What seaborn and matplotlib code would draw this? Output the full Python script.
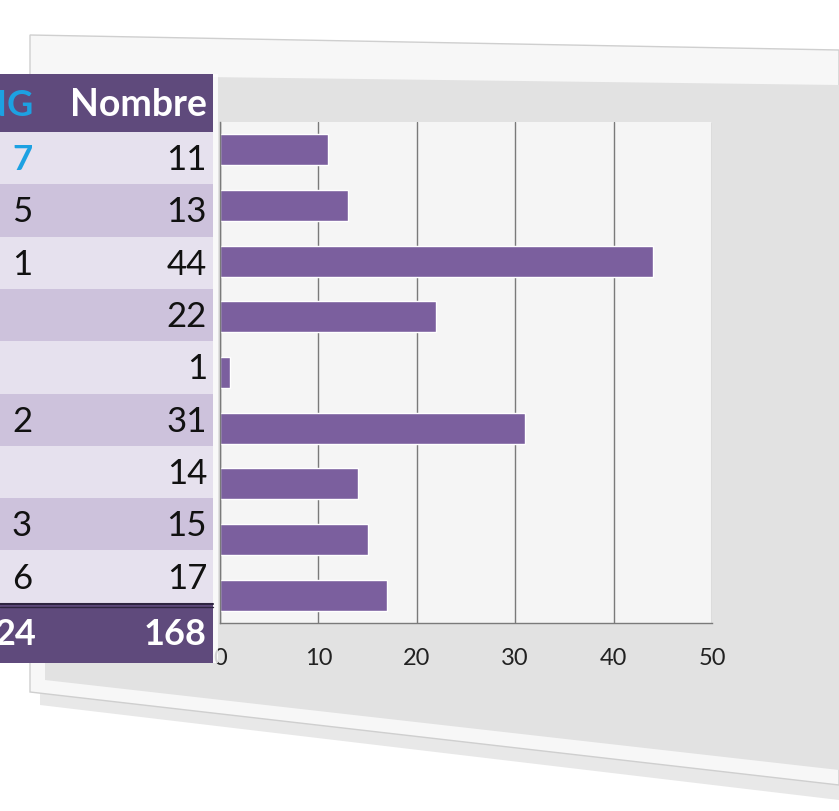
import matplotlib
matplotlib.use("Agg")
import matplotlib.pyplot as plt
import seaborn as sns
from matplotlib.patches import Rectangle, Polygon

sns.set_theme(style="white")
plt.rcParams["font.family"] = ["Lato", "DejaVu Sans"]

# data
categories = ["c1", "c2", "c3", "c4", "c5", "c6", "c7", "c8", "c9"]
nombre = [11, 13, 44, 22, 1, 31, 14, 15, 17]
rang = ["7", "5", "1", "", "", "2", "", "3", "6"]
headers = ["RANG", "Nombre"]
totals = ["24", "168"]
xticks = [0, 10, 20, 30, 40, 50]

W, H = 839, 811
fig = plt.figure(figsize=(W / 100, H / 100), dpi=100)
fig.patch.set_facecolor("white")


def fx(px):
    return px / W


def fy(py):
    return 1 - py / H


# background panel
bg = fig.add_axes([0, 0, 1, 1], zorder=0)
bg.set_xlim(0, W)
bg.set_ylim(H, 0)
bg.axis("off")
bg.add_patch(Polygon([(40, 45), (W, 60), (W, 800), (40, 705)], closed=True,
                     fc="#d9d9d9", ec="none", alpha=0.6))
bg.add_patch(Polygon([(30, 35), (W, 50), (W, 785), (30, 692)], closed=True,
                     fc="#f7f7f7", ec="#cfcfcf", lw=1))
bg.add_patch(Polygon([(45, 75), (W, 85), (W, 770), (45, 680)], closed=True,
                     fc="#e2e2e2", ec="none"))

# bar chart
ax = fig.add_axes([fx(220), fy(623), fx(712) - fx(220), fy(122) - fy(623)], zorder=1)
ax.set_facecolor("#f5f5f5")
sns.barplot(x=nombre, y=categories, orient="h", color="#7b5f9e",
            width=0.56, saturation=1, ax=ax)
ax.set_xlim(0, 50)
ax.set_xticks(xticks)
ax.set_xticklabels([str(t) for t in xticks], fontsize=17, color="#222222")
ax.set_yticks([])
ax.set_xlabel("")
ax.set_ylabel("")
ax.xaxis.grid(True, color="#7a7a7a", lw=1)
ax.set_axisbelow(True)
ax.tick_params(axis="x", length=10, width=1, color="#7a7a7a", pad=8, direction="out")
for side in ["top", "right"]:
    ax.spines[side].set_visible(False)
for side in ["left", "bottom"]:
    ax.spines[side].set_color("#7a7a7a")
    ax.spines[side].set_linewidth(1)

# table overlay
tb = fig.add_axes([0, 0, 1, 1], zorder=3)
tb.set_xlim(0, W)
tb.set_ylim(H, 0)
tb.axis("off")
tb.patch.set_alpha(0)

x0, x1 = 0, 213
head_top, row_top, row_h = 74, 132, 52.3
dark = "#5f4a7c"
light_rows = ["#e6e1ee", "#cdc2dc"]

tb.add_patch(Rectangle((x0, head_top), x1 - x0, row_top - head_top, fc=dark, ec="none"))
tb.text(33, (head_top + row_top) / 2 + 2, headers[0], color="#1da1e2", fontsize=26,
        fontweight="bold", ha="right", va="center")
tb.text(207, (head_top + row_top) / 2 + 2, headers[1], color="white", fontsize=27,
        fontweight="bold", ha="right", va="center")

for i, (r, n) in enumerate(zip(rang, nombre)):
    top = row_top + i * row_h
    tb.add_patch(Rectangle((x0, top), x1 - x0, row_h, fc=light_rows[i % 2], ec="none"))
    cy = top + row_h / 2 + 2
    if i == 0:
        tb.text(22, cy, r, color="#1da1e2", fontsize=25, fontweight="bold",
                ha="center", va="center")
    else:
        tb.text(22, cy, r, color="#111111", fontsize=25, ha="center", va="center")
    tb.text(207, cy, str(n), color="#111111", fontsize=25, ha="right", va="center")

tot_top = row_top + len(nombre) * row_h
tb.add_patch(Rectangle((x0, tot_top), x1 - x0, 60, fc=dark, ec="none"))
tb.plot([x0, x1], [tot_top + 1, tot_top + 1], color="#2e2440", lw=1.5)
tb.plot([x0, x1], [tot_top + 4, tot_top + 4], color="#2e2440", lw=1)
tb.text(36, tot_top + 32, totals[0], color="white", fontsize=26, fontweight="bold",
        ha="right", va="center")
tb.text(207, tot_top + 32, totals[1], color="white", fontsize=26, fontweight="bold",
        ha="right", va="center")
tb.add_patch(Rectangle((x1, head_top), 5, tot_top + 60 - head_top, fc="white",
                       ec="none", alpha=0.8))

fig.savefig("out.png", dpi=100)
